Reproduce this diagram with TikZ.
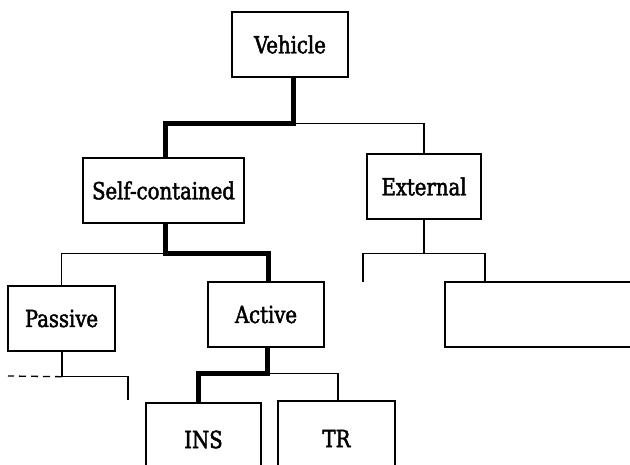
\documentclass[tikz,border=0pt]{standalone}
\usepackage{fontspec}
\setmainfont{DejaVu Serif Condensed}[FakeBold=2,FakeStretch=0.93]
\usetikzlibrary{calc}
\begin{document}
\begin{tikzpicture}[x=1pt,y=1pt,
  label text/.style={font=\fontsize{23.5}{27}\selectfont},
  box/.style={draw,line width=1.4pt,inner sep=0pt,anchor=center,label text},
  link/.style={line width=1.3pt},
  main/.style={line width=5pt,line join=miter}]
\useasboundingbox (0,0) rectangle (630,465);
\clip (0,0) rectangle (630,465);
% boxes of the tree
\node[box,minimum width=116pt,minimum height=65pt] (veh) at (290,420.5) {Vehicle};
\node[box,minimum width=161pt,minimum height=65pt] (self) at (163.5,274.5) {Self-contained};
\node[box,minimum width=114pt,minimum height=65pt] (ext) at (424,278.5) {External};
\node[box,minimum width=107pt,minimum height=65pt] (pas) at (61.5,146.5) {Passive};
\node[box,minimum width=116pt,minimum height=65pt] (act) at (266,150.5) {Active};
\node[box,minimum width=240pt,minimum height=65pt] (rbox) at (565,150.5) {};
\node[box,minimum width=115pt,minimum height=100pt] (ins) at (203.5,12) {};
\node[box,minimum width=117pt,minimum height=100pt] (tr) at (336.5,14) {};
\node[label text] (inst) at (203.5,25.5) {INS};
\node[label text] (trt) at (336.5,26.5) {TR};
% free ends and bus points
\coordinate (extl) at (363,183);
\coordinate (pasr) at (128,65);
\coordinate (pasd) at (8,89);
\coordinate (rtop) at (485,183);
% thin branches
\draw[link] (veh.south -| 293,0) ++(0,-46) -| (ext.north);
\draw[link] (self.south -| 165,0) ++(0,-30) -| (pas.north);
\draw[link] (ext.south) -- ++(0,-34) coordinate (eb) -| (extl);
\draw[link] (eb) -| (rtop);
\draw[link] (pas.south -| 62,0) -- ++(0,-25) coordinate (pb) -| (pasr);
\draw[link,dashed,dash pattern=on 7pt off 5pt] (pb) -- (pasd);
\draw[link] (act.south -| 267,0) ++(0,-26) -| (tr.north -| 338,0);
% highlighted path
\draw[main] (veh.south -| 293,0) -- ++(0,-46) -| (self.north -| 165,0);
\draw[main] (self.south -| 165,0) -- ++(0,-30) -| (act.north -| 268,0);
\draw[main] (act.south -| 267,0) -- ++(0,-26) -| (ins.north -| 198,0);
\end{tikzpicture}
\end{document}
